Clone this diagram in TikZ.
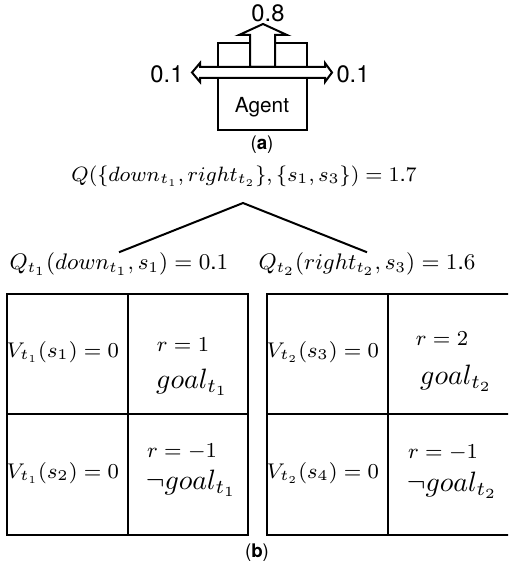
\documentclass[tikz,border=0pt]{standalone}
\usepackage{fix-cm}
\usepackage{fontspec}
\setmainfont{TeX Gyre Heros}
\usetikzlibrary{arrows.meta, calc}
% sans digits in math, as the figure prints them
\DeclareSymbolFont{sfnum}{TU}{\rmdefault}{m}{n}
\DeclareMathSymbol{0}{\mathalpha}{sfnum}{`0}
\DeclareMathSymbol{1}{\mathalpha}{sfnum}{`1}
\DeclareMathSymbol{2}{\mathalpha}{sfnum}{`2}
\DeclareMathSymbol{3}{\mathalpha}{sfnum}{`3}
\DeclareMathSymbol{4}{\mathalpha}{sfnum}{`4}
\DeclareMathSymbol{6}{\mathalpha}{sfnum}{`6}
\DeclareMathSymbol{7}{\mathalpha}{sfnum}{`7}
\DeclareMathSymbol{.}{\mathord}{sfnum}{`.}

\begin{document}
\begin{tikzpicture}[
      x=0.4pt,
      y=-0.4pt,
      >=Latex,
      agentline/.style={
        draw=black,
        line width=0.8pt
      },
      hollow/.style={
        draw=black,
        fill=white,
        line width=0.8pt,
        line join=miter
      },
      cellline/.style={draw=black, line width=1.1pt},
      treeline/.style={draw=black, line width=0.8pt},
      prob/.style={inner sep=1pt, font=\fontsize{9.5}{11}\selectfont},
      qval/.style={inner sep=0pt, font=\fontsize{9}{11}\selectfont},
      value/.style={inner sep=1pt, font=\fontsize{8.5}{10}\selectfont},
      reward/.style={inner sep=1pt, font=\fontsize{8.5}{10}\selectfont},
      goal/.style={inner sep=1pt, font=\fontsize{11.2}{13}\selectfont},
      caption/.style={inner sep=1pt, font=\fontsize{7.5}{9}\selectfont}
    ]

    \useasboundingbox (0,0) rectangle (508,565);
    \clip (0,0) rectangle (508,565);

    % Agent box
    \draw[agentline] (218,43) rectangle (307,130);
    \node[font=\fontsize{8.3}{10}\selectfont] (agent) at (262,107) {Agent};

    % Move arrows
    \draw[hollow] (250,67) -- (250,35) -- (239,35) -- (263,24) -- (287,35)
      -- (275,35) -- (275,67) -- cycle;
    \draw[hollow] (192,72.5) -- (200,63) -- (200,67) -- (325,67) -- (325,63)
      -- (332,72.5) -- (325,82) -- (325,78) -- (200,78) -- (200,82) -- cycle;

    % Move probabilities
    \node[prob] (pup) at (268,13) {0.8};
    \node[prob] (pleft) at (167,74) {0.1};
    \node[prob] (pright) at (353,74) {0.1};
    \node[caption] (capa) at (262,145) {(\textbf{a})};

    % Q decomposition
    \node[qval, font=\fontsize{8.3}{10}\selectfont] (qjoint) at (244,176)
      {$Q(\{down_{t_1}, right_{t_2}\}, \{s_1, s_3\}) = 1.7$};
    \node[qval] (qone) at (119,264) {$Q_{t_1}(down_{t_1}, s_1) = 0.1$};
    \node[qval] (qtwo) at (367,264) {$Q_{t_2}(right_{t_2}, s_3) = 1.6$};
    \coordinate (apex) at (243,203);
    \draw[treeline] (qone.north) -- (apex) -- (qtwo.north);

    % Left grid
    \draw[cellline] (7,294) rectangle (248,535);
    \draw[cellline] (128,294) -- (128,535);
    \draw[cellline] (7,414) -- (248,414);

    % Right grid
    \draw[cellline] (267,294) rectangle (520,535);
    \draw[cellline] (388,294) -- (388,535);
    \draw[cellline] (267,414) -- (520,414);

    % Cell texts, task 1
    \node[value] (vsone) at (63,352) {$V_{t_1}(s_1) = 0$};
    \node[value] (vstwo) at (63,473) {$V_{t_1}(s_2) = 0$};
    \node[reward] (rone) at (183,345) {$r = 1$};
    \node[goal] (gone) at (192,382) {$goal_{t_1}$};
    \node[reward] (rtwo) at (182,452) {$r = -1$};
    \node[goal] (ngone) at (191,483) {$\neg goal_{t_1}$};

    % Cell texts, task 2
    \node[value] (vsthree) at (323,352) {$V_{t_2}(s_3) = 0$};
    \node[value] (vsfour) at (323,473) {$V_{t_2}(s_4) = 0$};
    \node[reward] (rthree) at (442,339) {$r = 2$};
    \node[goal] (gtwo) at (456,378) {$goal_{t_2}$};
    \node[reward] (rfour) at (443,453) {$r = -1$};
    \node[goal] (ngtwo) at (452,485) {$\neg goal_{t_2}$};

    \node[caption] (capb) at (257,553) {(\textbf{b})};

  \end{tikzpicture}
\end{document}
